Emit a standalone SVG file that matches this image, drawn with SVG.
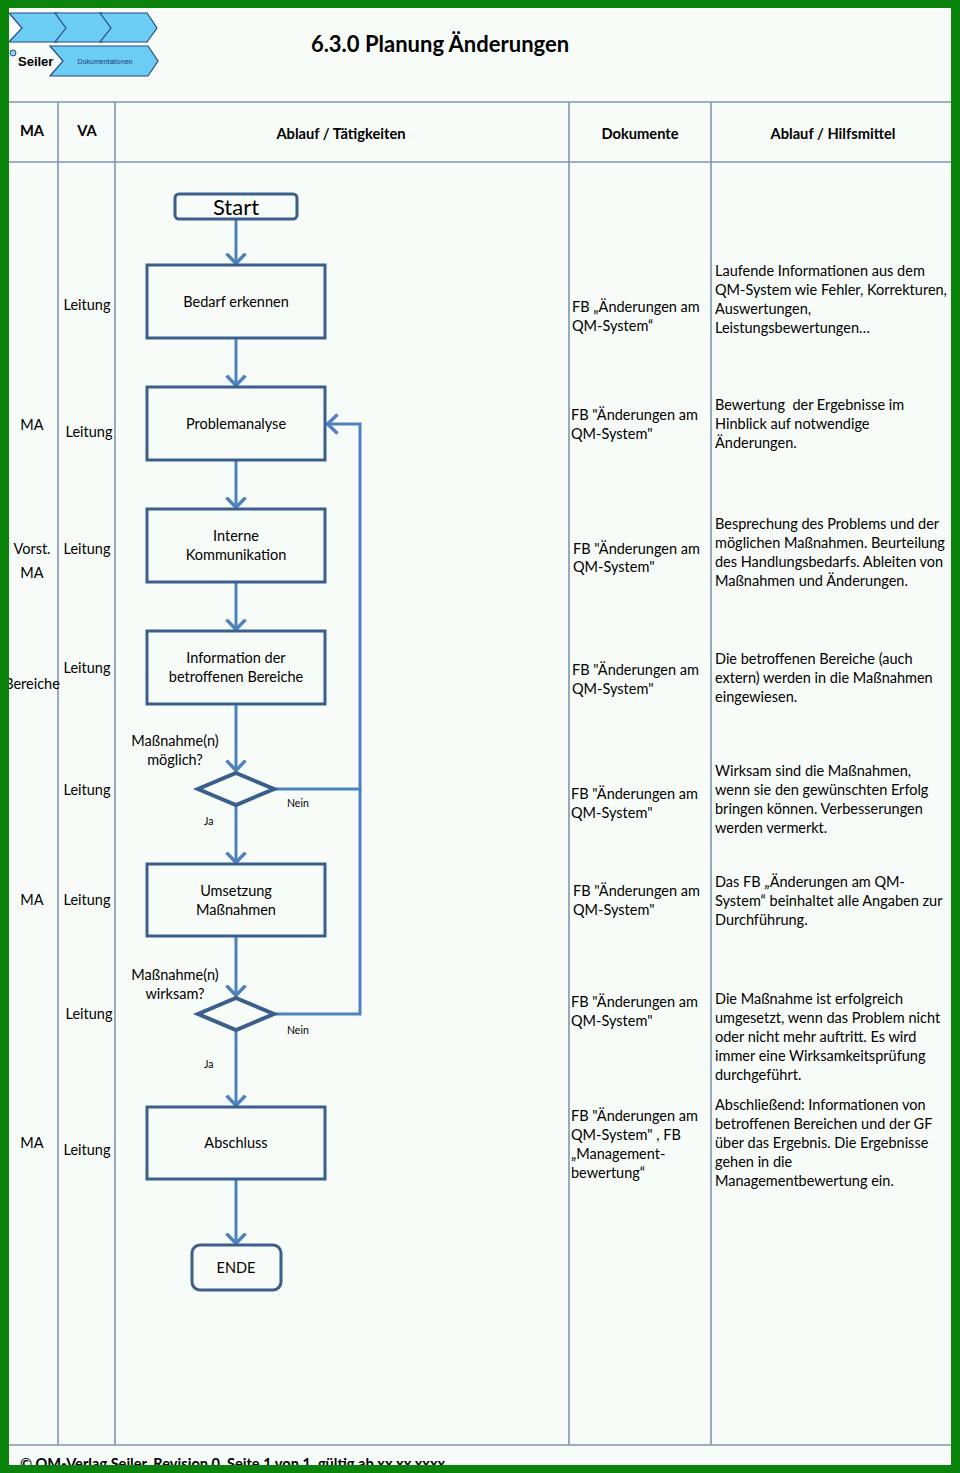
<svg xmlns="http://www.w3.org/2000/svg" width="960" height="1473" viewBox="0 0 960 1473">
<defs>
<style>
text{font-family:Lato,"Open Sans","Liberation Sans",sans-serif;fill:#000;}
.t{font-size:14.5px;}
.c{text-anchor:middle;}
.h{font-size:14.7px;font-weight:bold;text-anchor:middle;}
.s{font-size:10.5px;}
.grid{stroke:#8194b0;stroke-width:1.6;fill:none;}
.box{fill:none;stroke:#3b5f8c;stroke-width:3;}
.dia{fill:none;stroke:#3b5f8c;stroke-width:4;stroke-linejoin:miter;}
.con{fill:none;stroke:#4f81bd;stroke-width:3;}
.chev{fill:#6ccdf4;stroke:#2a4a80;stroke-width:1.2;}
</style>
<marker id="ah" markerUnits="userSpaceOnUse" viewBox="0 0 13 22" markerWidth="13" markerHeight="22" refX="11.5" refY="11" orient="auto">
<path d="M1,1.5 L11,11 L1,20.5" fill="none" stroke="#4f81bd" stroke-width="3.4"/>
</marker>
</defs>
<rect x="0" y="0" width="960" height="1473" fill="#f8fcf9"/>

<g id="logo">
<path class="chev" d="M9,13 H58 L68,28 L58,42 H9 L22,28 Z"/>
<path class="chev" d="M55,13 H102 L112,28 L102,42 H55 L66,28 Z"/>
<path class="chev" d="M100,13 H147 L157,28 L147,42 H100 L111,28 Z"/>
<path class="chev" d="M50,46 H148 L158,61 L148,76 H50 L63,61 Z"/>
<circle cx="13" cy="53" r="3" fill="#8fd3f0" stroke="#2a4a80" stroke-width="1"/>
<text x="18" y="66" style="font-family:'Liberation Sans',Arial,sans-serif;font-size:13px;font-weight:bold;">Seiler</text>
<text x="105" y="64" style="font-family:'Liberation Sans',Arial,sans-serif;font-size:7px;fill:#1b3a7a;" text-anchor="middle">Dokumentationen</text>
</g>

<g id="title">
<text x="440" y="52" style="font-size:22px;font-weight:bold;" text-anchor="middle">6.3.0 Planung Änderungen</text>
</g>

<g id="table">
<path class="grid" d="M8,102 H951 M8,162 H951 M8,1445 H951 M58,102 V1445 M115,102 V1445 M569,102 V1445 M711,102 V1445"/>
<text class="h" x="32" y="136">MA</text>
<text class="h" x="87" y="136">VA</text>
<text class="h" x="341" y="139">Ablauf / Tätigkeiten</text>
<text class="h" x="640" y="139">Dokumente</text>
<text class="h" x="833" y="139">Ablauf / Hilfsmittel</text>
</g>

<g id="col-ma">
<text class="t c" x="32" y="430">MA</text>
<text class="t c" x="32" y="554">Vorst.</text>
<text class="t c" x="32" y="578">MA</text>
<text class="t c" x="32" y="689">Bereiche</text>
<text class="t c" x="32" y="905">MA</text>
<text class="t c" x="32" y="1148">MA</text>
</g>

<g id="col-va">
<text class="t c" x="87" y="310">Leitung</text>
<text class="t c" x="89" y="437">Leitung</text>
<text class="t c" x="87" y="554">Leitung</text>
<text class="t c" x="87" y="673">Leitung</text>
<text class="t c" x="87" y="795">Leitung</text>
<text class="t c" x="87" y="905">Leitung</text>
<text class="t c" x="89" y="1019">Leitung</text>
<text class="t c" x="87" y="1155">Leitung</text>
</g>

<g id="connectors">
<path class="con" d="M236,220 V264" marker-end="url(#ah)"/>
<path class="con" d="M236,339 V386" marker-end="url(#ah)"/>
<path class="con" d="M236,461 V508" marker-end="url(#ah)"/>
<path class="con" d="M236,583 V630" marker-end="url(#ah)"/>
<path class="con" d="M236,705 V771" marker-end="url(#ah)"/>
<path class="con" d="M236,806 V863" marker-end="url(#ah)"/>
<path class="con" d="M236,937 V996" marker-end="url(#ah)"/>
<path class="con" d="M236,1031 V1106" marker-end="url(#ah)"/>
<path class="con" d="M236,1180 V1244" marker-end="url(#ah)"/>
<path class="con" d="M274,789 H360 V424 H327" marker-end="url(#ah)"/>
<path class="con" d="M274,1014 H360 V789"/>
</g>

<g id="start">
<rect class="box" x="175" y="194" width="122" height="25" rx="4"/>
<text x="236" y="215" style="font-size:22px;" text-anchor="middle">Start</text>
</g>
<g id="bedarf">
<rect class="box" x="147" y="265" width="178" height="73"/>
<text class="t c" x="236" y="307">Bedarf erkennen</text>
</g>
<g id="problem">
<rect class="box" x="147" y="387" width="178" height="73"/>
<text class="t c" x="236" y="429">Problemanalyse</text>
</g>
<g id="interne">
<rect class="box" x="147" y="509" width="178" height="73"/>
<text class="t c" x="236" y="541">Interne</text>
<text class="t c" x="236" y="560">Kommunikation</text>
</g>
<g id="information">
<rect class="box" x="147" y="631" width="178" height="73"/>
<text class="t c" x="236" y="663">Information der</text>
<text class="t c" x="236" y="682">betroffenen Bereiche</text>
</g>
<g id="dec1">
<path class="dia" d="M236,773 L274,789 L236,805 L198,789 Z"/>
<text class="t c" x="175" y="746">Maßnahme(n)</text>
<text class="t c" x="175" y="765">möglich?</text>
<text class="s" x="287" y="807">Nein</text>
<text class="s" x="204" y="825">Ja</text>
</g>
<g id="umsetzung">
<rect class="box" x="147" y="864" width="178" height="72"/>
<text class="t c" x="236" y="896">Umsetzung</text>
<text class="t c" x="236" y="915">Maßnahmen</text>
</g>
<g id="dec2">
<path class="dia" d="M236,998 L274,1014 L236,1030 L198,1014 Z"/>
<text class="t c" x="175" y="980">Maßnahme(n)</text>
<text class="t c" x="175" y="999">wirksam?</text>
<text class="s" x="287" y="1034">Nein</text>
<text class="s" x="204" y="1068">Ja</text>
</g>
<g id="abschluss">
<rect class="box" x="147" y="1107" width="178" height="72"/>
<text class="t c" x="236" y="1148">Abschluss</text>
</g>
<g id="ende">
<rect class="box" x="192" y="1245" width="89" height="45" rx="8"/>
<text class="t c" x="236" y="1273">ENDE</text>
</g>

<g id="dokumente">
<text class="t" x="572" y="312">FB „Änderungen am</text>
<text class="t" x="572" y="331">QM-System“</text>
<text class="t" x="571" y="420">FB "Änderungen am</text>
<text class="t" x="571" y="439">QM-System"</text>
<text class="t" x="573" y="554">FB "Änderungen am</text>
<text class="t" x="573" y="572">QM-System"</text>
<text class="t" x="572" y="675">FB "Änderungen am</text>
<text class="t" x="572" y="694">QM-System"</text>
<text class="t" x="571" y="799">FB "Änderungen am</text>
<text class="t" x="571" y="818">QM-System"</text>
<text class="t" x="573" y="896">FB "Änderungen am</text>
<text class="t" x="573" y="915">QM-System"</text>
<text class="t" x="571" y="1007">FB "Änderungen am</text>
<text class="t" x="571" y="1026">QM-System"</text>
<text class="t" x="571" y="1121">FB "Änderungen am</text>
<text class="t" x="571" y="1140">QM-System" , FB</text>
<text class="t" x="571" y="1159">„Management-</text>
<text class="t" x="571" y="1178">bewertung“</text>
</g>

<g id="hilfsmittel">
<text class="t" x="715" y="276">Laufende Informationen aus dem</text>
<text class="t" x="715" y="295">QM-System wie Fehler, Korrekturen,</text>
<text class="t" x="715" y="314">Auswertungen,</text>
<text class="t" x="715" y="333">Leistungsbewertungen…</text>
<text class="t" x="715" y="410" xml:space="preserve">Bewertung  der Ergebnisse im</text>
<text class="t" x="715" y="429">Hinblick auf notwendige</text>
<text class="t" x="715" y="448">Änderungen.</text>
<text class="t" x="715" y="529">Besprechung des Problems und der</text>
<text class="t" x="715" y="548">möglichen Maßnahmen. Beurteilung</text>
<text class="t" x="715" y="567">des Handlungsbedarfs. Ableiten von</text>
<text class="t" x="715" y="586">Maßnahmen und Änderungen.</text>
<text class="t" x="715" y="664">Die betroffenen Bereiche (auch</text>
<text class="t" x="715" y="683">extern) werden in die Maßnahmen</text>
<text class="t" x="715" y="702">eingewiesen.</text>
<text class="t" x="715" y="776">Wirksam sind die Maßnahmen,</text>
<text class="t" x="715" y="795">wenn sie den gewünschten Erfolg</text>
<text class="t" x="715" y="814">bringen können. Verbesserungen</text>
<text class="t" x="715" y="833">werden vermerkt.</text>
<text class="t" x="715" y="887">Das FB „Änderungen am QM-</text>
<text class="t" x="715" y="906">System“ beinhaltet alle Angaben zur</text>
<text class="t" x="715" y="925">Durchführung.</text>
<text class="t" x="715" y="1004">Die Maßnahme ist erfolgreich</text>
<text class="t" x="715" y="1023">umgesetzt, wenn das Problem nicht</text>
<text class="t" x="715" y="1042">oder nicht mehr auftritt. Es wird</text>
<text class="t" x="715" y="1061">immer eine Wirksamkeitsprüfung</text>
<text class="t" x="715" y="1080">durchgeführt.</text>
<text class="t" x="715" y="1110">Abschließend: Informationen von</text>
<text class="t" x="715" y="1129">betroffenen Bereichen und der GF</text>
<text class="t" x="715" y="1148">über das Ergebnis. Die Ergebnisse</text>
<text class="t" x="715" y="1167">gehen in die</text>
<text class="t" x="715" y="1186">Managementbewertung ein.</text>
</g>

<g id="footer">
<text x="20" y="1469" style="font-size:14.6px;font-weight:bold;">© QM-Verlag Seiler, Revision 0, Seite 1 von 1, gültig ab xx.xx.xxxx</text>
</g>

<g id="frame" fill="#0a840a">
<rect x="0" y="0" width="960" height="8"/>
<rect x="0" y="0" width="9" height="1473"/>
<rect x="951" y="0" width="9" height="1473"/>
<rect x="0" y="1465" width="960" height="8"/>
</g>
</svg>
